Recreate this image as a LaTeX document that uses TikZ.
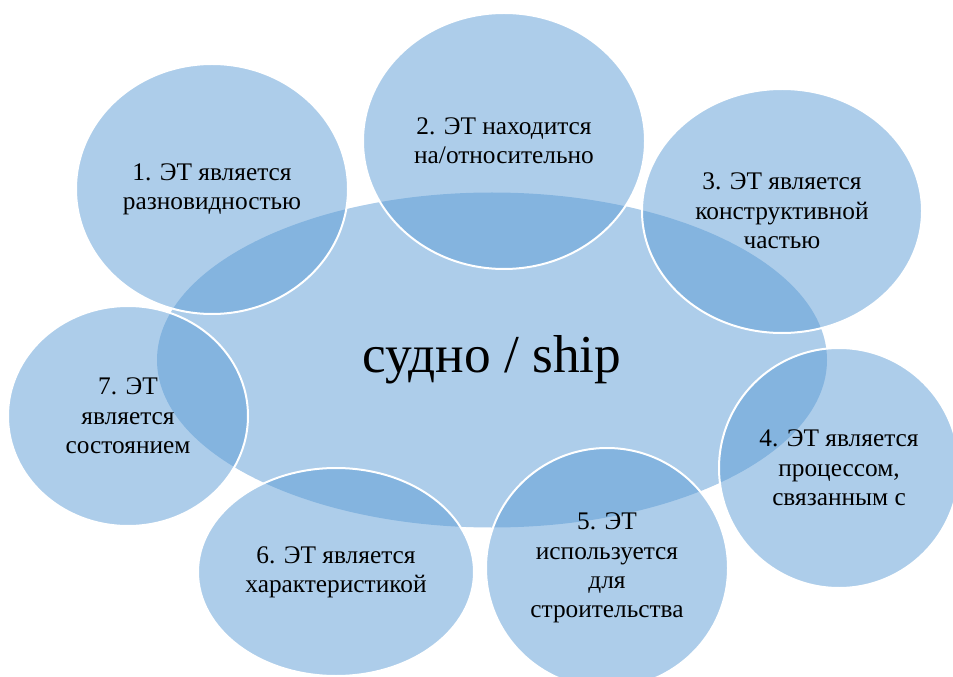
\documentclass[tikz,border=0pt]{standalone}
\usepackage{fontspec}
\setmainfont{Liberation Serif}
\usetikzlibrary{shapes.geometric}

\definecolor{bubble}{HTML}{5B9BD5}

\tikzset{
  bubble/.style={ellipse,fill=bubble,fill opacity=0.5,text opacity=1,draw=white,line width=1.5pt,
    inner sep=0pt,align=center,font=\fontsize{19}{22}\selectfont},
  hub/.style={ellipse,fill=bubble,fill opacity=0.5,text opacity=1,inner sep=0pt,
    font=\fontsize{40}{48}\selectfont}
}

\begin{document}
\begin{tikzpicture}[x=0.75pt,y=-0.75pt]
\useasboundingbox (0,0) rectangle (953,677);
\begin{scope}
\clip (0,0) rectangle (953,677);

% centre
\node[hub,minimum width=502.5pt,minimum height=251.25pt] (ship) at (492,360) {судно / ship};

% circles
\node[bubble,minimum width=204pt,minimum height=187.5pt] (t1) at (212,189) {1. ЭТ является\\разновидностью};
\node[bubble,minimum width=211.5pt,minimum height=192pt] (t2) at (504,141) {2. ЭТ находится\\на/относительно};
\node[bubble,minimum width=210pt,minimum height=183pt] (t3) at (782,211) {3. ЭТ является\\конструктивной\\частью};
\node[bubble,minimum width=180pt,minimum height=180pt] (t4) at (839,468) {4. ЭТ является\\процессом,\\связанным с};
\node[bubble,minimum width=181.5pt,minimum height=180pt] (t5) at (607,568) {5. ЭТ\\используется\\для\\строительства};
\node[bubble,minimum width=207pt,minimum height=156pt] (t6) at (336,572) {6. ЭТ является\\характеристикой};
\node[bubble,minimum width=180pt,minimum height=165pt] (t7) at (128,416) {7. ЭТ\\является\\состоянием};

\end{scope}
\end{tikzpicture}
\end{document}
